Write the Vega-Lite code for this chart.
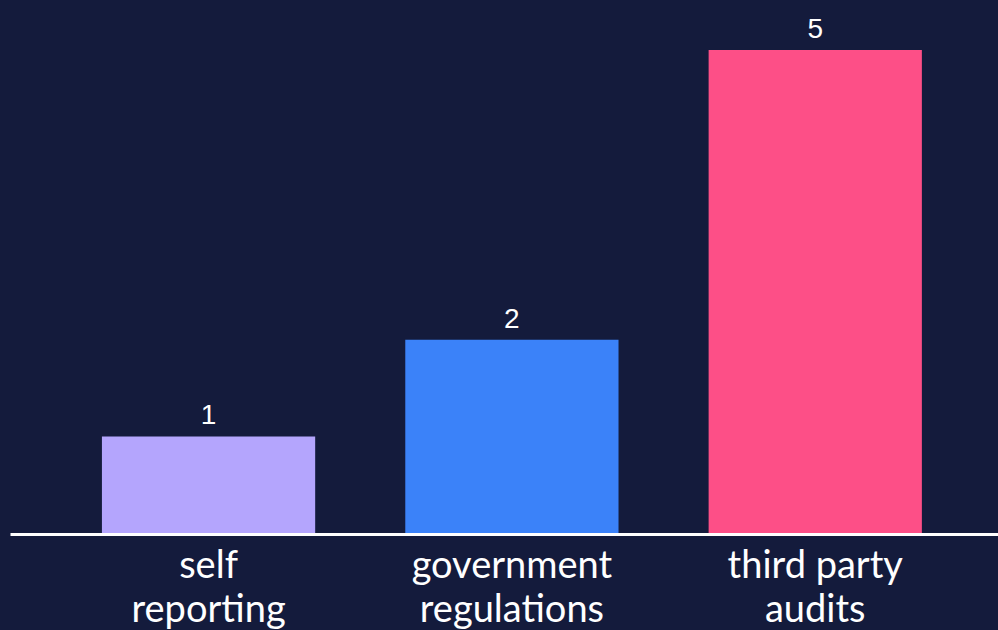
{
  "$schema": "https://vega.github.io/schema/vega-lite/v6.json",
  "width": 988,
  "height": 483,
  "autosize": {"type": "none"},
  "padding": {"left": 10, "top": 50, "right": 0, "bottom": 97},
  "background": "#141b3c",
  "config": {"view": {"stroke": null}},
  "data": {
    "values": [
      {"category": "self reporting", "value": 1, "color": "#b4a5fd"},
      {"category": "government regulations", "value": 2, "color": "#3b82f9"},
      {"category": "third party audits", "value": 5, "color": "#fd4f87"}
    ]
  },
  "encoding": {
    "x": {
      "field": "category",
      "type": "nominal",
      "sort": null,
      "scale": {"paddingInner": 0.297, "paddingOuter": 0.277, "align": 0.547},
      "axis": {
        "title": null,
        "labelAngle": 0,
        "ticks": false,
        "domainColor": "#ffffff",
        "domainWidth": 3,
        "offset": 1,
        "labelColor": "#ffffff",
        "labelFont": "Lato",
        "labelFontSize": 38,
        "labelLimit": 0,
        "labelLineHeight": 44,
        "labelPadding": 13,
        "labelBaseline": "top",
        "labelExpr": "datum.label == 'third party audits' ? ['third party', 'audits'] : split(datum.label, ' ')"
      }
    },
    "y": {
      "field": "value",
      "type": "quantitative",
      "scale": {"domain": [0, 5], "nice": false},
      "axis": null
    }
  },
  "layer": [
    {
      "mark": {"type": "bar"},
      "encoding": {
        "color": {"field": "color", "type": "nominal", "scale": null}
      }
    },
    {
      "mark": {"type": "text", "color": "#ffffff", "font": "Liberation Sans", "fontSize": 28, "baseline": "alphabetic", "dy": -12},
      "encoding": {"text": {"field": "value", "type": "quantitative"}}
    }
  ]
}
